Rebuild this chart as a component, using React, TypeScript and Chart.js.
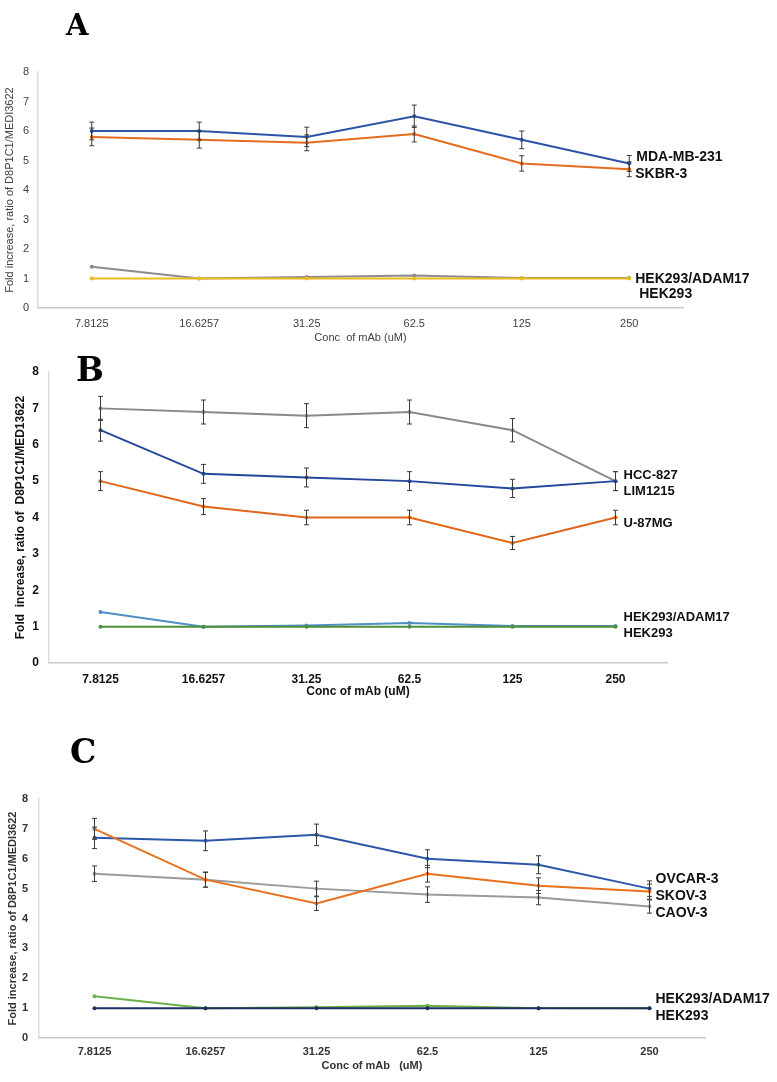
import React, { useEffect, useRef } from "react";
import { Chart, registerables } from "chart.js";

Chart.register(...registerables);

// ---------- shared categories ----------
const concLabels = ["7.8125", "16.6257", "31.25", "62.5", "125", "250"];

// ---------- Panel A ----------
const mdaMb231 = [6.0, 6.0, 5.8, 6.5, 5.7, 4.9];
const mdaMb231Err = [0.3, 0.3, 0.33, 0.38, 0.3, 0.27];
const skbr3 = [5.8, 5.7, 5.6, 5.9, 4.9, 4.7];
const skbr3Err = [0.3, 0.28, 0.27, 0.27, 0.26, 0.25];
const hekAdam17A = [1.4, 1.0, 1.05, 1.1, 1.02, 1.02];
const hek293A = [1.0, 1.0, 1.0, 1.0, 1.0, 1.0];

// ---------- Panel B ----------
const hcc827 = [7.0, 6.9, 6.8, 6.9, 6.4, 5.0];
const hcc827Err = [0.33, 0.33, 0.33, 0.33, 0.32, 0.26];
const lim1215 = [6.4, 5.2, 5.1, 5.0, 4.8, 5.0];
const lim1215Err = [0.3, 0.26, 0.26, 0.26, 0.25, 0.26];
const u87mg = [5.0, 4.3, 4.0, 4.0, 3.3, 4.0];
const u87mgErr = [0.26, 0.22, 0.2, 0.2, 0.18, 0.2];
const hekAdam17B = [1.4, 1.0, 1.03, 1.1, 1.02, 1.02];
const hek293B = [1.0, 1.0, 1.0, 1.0, 1.0, 1.0];

// ---------- Panel C ----------
const ovcar3 = [6.7, 6.6, 6.8, 6.0, 5.8, 5.0];
const ovcar3Err = [0.36, 0.33, 0.36, 0.3, 0.3, 0.26];
const skov3 = [7.0, 5.3, 4.5, 5.5, 5.1, 4.9];
const skov3Err = [0.35, 0.25, 0.23, 0.28, 0.26, 0.25];
const caov3 = [5.5, 5.3, 5.0, 4.8, 4.7, 4.4];
const caov3Err = [0.26, 0.25, 0.25, 0.26, 0.24, 0.22];
const hekAdam17C = [1.4, 1.0, 1.03, 1.08, 1.0, 1.0];
const hek293C = [1.0, 1.0, 1.0, 1.0, 1.0, 1.0];

// y-axis ticks
const yTicks = [0, 1, 2, 3, 4, 5, 6, 7, 8];

// right-side series labels (value on y axis where the label sits)
const labelsA = [
  { text: "MDA-MB-231", value: 5.1, dx: 7 },
  { text: "SKBR-3", value: 4.53, dx: 6 },
  { text: "HEK293/ADAM17", value: 0.99, dx: 6 },
  { text: "HEK293", value: 0.47, dx: 10 },
];
const labelsB = [
  { text: "HCC-827", value: 5.17, dx: 8 },
  { text: "LIM1215", value: 4.72, dx: 8 },
  { text: "U-87MG", value: 3.85, dx: 8 },
  { text: "HEK293/ADAM17", value: 1.24, dx: 8 },
  { text: "HEK293", value: 0.8, dx: 8 },
];
const labelsC = [
  { text: "OVCAR-3", value: 5.32, dx: 6 },
  { text: "SKOV-3", value: 4.76, dx: 6 },
  { text: "CAOV-3", value: 4.17, dx: 6 },
  { text: "HEK293/ADAM17", value: 1.3, dx: 6 },
  { text: "HEK293", value: 0.72, dx: 6 },
];

const FONT = "'Liberation Sans', Arial, sans-serif";

type Series = { data: number[]; err?: number[]; color: string };

function mkDatasets(series: Series[]) {
  return series.map((s) => ({
    data: s.data,
    errors: s.err,
    borderColor: s.color,
    backgroundColor: s.color,
    borderWidth: 2,
    pointRadius: 2,
    pointBorderWidth: 0,
    pointBackgroundColor: s.color,
    tension: 0,
  }));
}

const errorBarPlugin = {
  id: "errorBars",
  afterDatasetsDraw(chart: any) {
    const ctx = chart.ctx;
    const x = chart.scales.x;
    const y = chart.scales.y;
    ctx.save();
    ctx.strokeStyle = "#3a3a3a";
    ctx.lineWidth = 1;
    chart.data.datasets.forEach((ds: any) => {
      if (!ds.errors) return;
      ds.data.forEach((v: number, i: number) => {
        const e = ds.errors[i];
        if (!e) return;
        const px = x.getPixelForValue(i);
        const t = y.getPixelForValue(v + e);
        const b = y.getPixelForValue(v - e);
        ctx.beginPath();
        ctx.moveTo(px, t);
        ctx.lineTo(px, b);
        ctx.moveTo(px - 2.5, t);
        ctx.lineTo(px + 2.5, t);
        ctx.moveTo(px - 2.5, b);
        ctx.lineTo(px + 2.5, b);
        ctx.stroke();
      });
    });
    ctx.restore();
  },
};

const sideLabelPlugin = {
  id: "sideLabels",
  afterDraw(chart: any) {
    const opts = chart.options.plugins.sideLabels;
    if (!opts) return;
    const ctx = chart.ctx;
    const x = chart.scales.x;
    const y = chart.scales.y;
    const lastX = x.getPixelForValue(concLabels.length - 1);
    ctx.save();
    ctx.fillStyle = "#111";
    ctx.font = `bold ${opts.size}px ${FONT}`;
    ctx.textBaseline = "middle";
    ctx.textAlign = "left";
    opts.items.forEach((it: any) => {
      ctx.fillText(it.text, lastX + it.dx, y.getPixelForValue(it.value));
    });
    ctx.restore();
  },
};

type PanelProps = {
  top: number;
  height: number;
  padTop: number;
  padRight: number;
  yWidth: number;
  xHeight: number;
  tickFont: any;
  tickColor: string;
  xTickPad: number;
  yTickPad: number;
  xTitle: string;
  yTitle: string;
  titleFont: any;
  xTitlePadBottom: number;
  yTitlePadTop: number;
  series: Series[];
  labels: any[];
  labelSize: number;
};

function Panel(p: PanelProps) {
  const ref = useRef<HTMLCanvasElement | null>(null);
  useEffect(() => {
    if (!ref.current) return;
    const chart = new Chart(ref.current, {
      type: "line",
      data: { labels: concLabels, datasets: mkDatasets(p.series) as any },
      options: {
        animation: false,
        responsive: false,
        maintainAspectRatio: false,
        layout: { padding: { top: p.padTop, right: p.padRight, bottom: 0, left: 0 } },
        plugins: {
          legend: { display: false },
          tooltip: { enabled: false },
          sideLabels: { items: p.labels, size: p.labelSize },
        } as any,
        scales: {
          x: {
            offset: true,
            grid: { display: false, drawTicks: false },
            border: { display: true, color: "#c8c8c8", width: 1.5 },
            ticks: { font: p.tickFont, color: p.tickColor, padding: p.xTickPad, maxRotation: 0, autoSkip: false },
            title: {
              display: true,
              text: p.xTitle,
              font: p.titleFont,
              color: p.tickColor,
              padding: { top: 0, bottom: p.xTitlePadBottom },
            },
            afterFit: (s: any) => {
              s.height = p.xHeight;
            },
          },
          y: {
            min: 0,
            max: 8,
            grid: { display: false, drawTicks: false },
            border: { display: true, color: "#dcdcdc", width: 1.5 },
            afterBuildTicks: (s: any) => {
              s.ticks = yTicks.map((v) => ({ value: v }));
            },
            ticks: { font: p.tickFont, color: p.tickColor, padding: p.yTickPad },
            title: {
              display: true,
              text: p.yTitle,
              font: p.titleFont,
              color: p.tickColor,
              padding: { top: p.yTitlePadTop, bottom: 0 },
            },
            afterFit: (s: any) => {
              s.width = p.yWidth;
            },
          },
        },
      },
      plugins: [errorBarPlugin, sideLabelPlugin],
    });
    return () => chart.destroy();
  }, []);
  return (
    <canvas
      ref={ref}
      width={777}
      height={p.height}
      style={{ position: "absolute", left: 0, top: p.top, width: 777, height: p.height }}
    />
  );
}

const letterStyle = (left: number, top: number, size: number): React.CSSProperties => ({
  position: "absolute",
  left,
  top,
  fontFamily: "'DejaVu Serif', serif",
  fontWeight: "bold",
  fontSize: size,
  lineHeight: 1,
  color: "#000",
});

export default function App() {
  return (
    <div style={{ position: "absolute", left: 0, top: 0, width: 777, height: 1082, background: "#fff", overflow: "hidden" }}>
      <Panel
        top={40}
        height={310}
        padTop={32}
        padRight={94}
        yWidth={38}
        xHeight={42}
        tickFont={{ family: FONT, size: 11 }}
        tickColor="#404040"
        xTickPad={9}
        yTickPad={9}
        xTitle="Conc  of mAb (uM)"
        yTitle="Fold increase, ratio of D8P1C1/MEDI3622"
        titleFont={{ family: FONT, size: 11 }}
        xTitlePadBottom={5}
        yTitlePadTop={3}
        series={[
          { data: hek293A, color: "#EDBB1F" },
          { data: hekAdam17A, color: "#8C8C8C" },
          { data: skbr3, err: skbr3Err, color: "#E36C1F" },
          { data: mdaMb231, err: mdaMb231Err, color: "#2B54A6" },
        ]}
        labels={labelsA}
        labelSize={14}
      />
      <Panel
        top={350}
        height={360}
        padTop={22}
        padRight={110}
        yWidth={49}
        xHeight={47}
        tickFont={{ family: FONT, size: 12, weight: "bold" }}
        tickColor="#111"
        xTickPad={9}
        yTickPad={10}
        xTitle="Conc of mAb (uM)"
        yTitle="Fold  increase, ratio of  D8P1C1/MED13622"
        titleFont={{ family: FONT, size: 12, weight: "bold" }}
        xTitlePadBottom={11}
        yTitlePadTop={13}
        series={[
          { data: hek293B, color: "#4E8F3A" },
          { data: hekAdam17B, color: "#4F8FC4" },
          { data: u87mg, err: u87mgErr, color: "#E0661C" },
          { data: lim1215, err: lim1215Err, color: "#23479A" },
          { data: hcc827, err: hcc827Err, color: "#8A8A8A" },
        ]}
        labels={labelsB}
        labelSize={13}
      />
      <Panel
        top={710}
        height={372}
        padTop={89}
        padRight={72}
        yWidth={39}
        xHeight={44}
        tickFont={{ family: FONT, size: 11, weight: "bold" }}
        tickColor="#333"
        xTickPad={7}
        yTickPad={11}
        xTitle="Conc of mAb   (uM)"
        yTitle="Fold increase, ratio of D8P1C1/MEDI3622"
        titleFont={{ family: FONT, size: 11, weight: "bold" }}
        xTitlePadBottom={9}
        yTitlePadTop={6}
        series={[
          { data: hek293C, color: "#1B2F5E" },
          { data: hekAdam17C, color: "#6DB04A" },
          { data: skov3, err: skov3Err, color: "#E8711F" },
          { data: ovcar3, err: ovcar3Err, color: "#2B57A8" },
          { data: caov3, err: caov3Err, color: "#9A9A9A" },
        ]}
        labels={labelsC}
        labelSize={14}
      />
      <div style={letterStyle(66, 11, 29)}>A</div>
      <div style={letterStyle(76, 353, 33)}>B</div>
      <div style={letterStyle(70, 735, 33)}>C</div>
    </div>
  );
}
